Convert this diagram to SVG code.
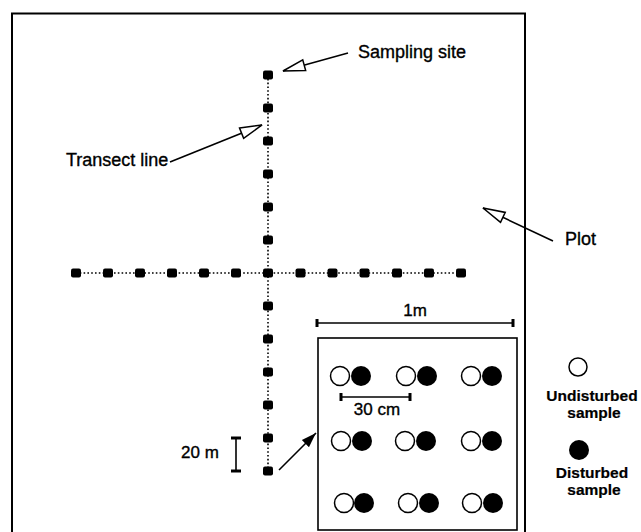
<svg xmlns="http://www.w3.org/2000/svg" width="641" height="532" viewBox="0 0 641 532">
<style>
.frame{fill:none;stroke:#000;stroke-width:2}
.box{fill:none;stroke:#000;stroke-width:1.6}
.dot{fill:none;stroke:#000;stroke-width:1.6;stroke-dasharray:1.6 2.2}
.sq{fill:#000}
.bar{stroke:#000;stroke-width:1.6;fill:none}
.tick{stroke:#000;stroke-width:3;fill:none}
.ptr{stroke:#000;stroke-width:1.6;fill:none}
.u{fill:#fff;stroke:#000;stroke-width:1.5}
.d{fill:#000}
text{font-family:"Liberation Sans",Arial,Helvetica,sans-serif;fill:#000;stroke:#000;stroke-width:0.35}
.lbl{font-size:18px}
.sm{font-size:17px}
.leg{font-size:15.5px;font-weight:bold;text-anchor:middle;stroke-width:0.2}
</style>
<defs>
<marker id="hollow" markerUnits="userSpaceOnUse" markerWidth="28" markerHeight="16" refX="24" refY="7" orient="auto">
<path d="M2,1.5 L24,7 L2,12.5 Z" fill="#fff" stroke="#000" stroke-width="1.5"/>
</marker>
<marker id="solid" markerUnits="userSpaceOnUse" markerWidth="18" markerHeight="12" refX="15" refY="6" orient="auto">
<path d="M0,1 L15,6 L0,11 Z" fill="#000"/>
</marker>
<rect id="s" class="sq" x="-5" y="-4.5" width="10" height="9" rx="2"/>
</defs>

<g id="plot">
<path class="frame" d="M12,534 V13.5 H525 V534"/>
</g>

<g id="transects">
<line class="dot" x1="268" y1="75" x2="268" y2="471"/>
<line class="dot" x1="76" y1="273" x2="461" y2="273"/>
</g>

<g id="sampling-sites">
<use href="#s" x="268" y="75"/>
<use href="#s" x="268" y="108"/>
<use href="#s" x="268" y="141"/>
<use href="#s" x="268" y="174"/>
<use href="#s" x="268" y="207"/>
<use href="#s" x="268" y="240"/>
<use href="#s" x="268" y="306"/>
<use href="#s" x="268" y="339"/>
<use href="#s" x="268" y="372"/>
<use href="#s" x="268" y="405"/>
<use href="#s" x="268" y="438"/>
<use href="#s" x="268" y="471"/>
<use href="#s" x="76" y="273"/>
<use href="#s" x="108" y="273"/>
<use href="#s" x="140" y="273"/>
<use href="#s" x="172" y="273"/>
<use href="#s" x="204" y="273"/>
<use href="#s" x="236" y="273"/>
<use href="#s" x="268" y="273"/>
<use href="#s" x="300.5" y="273"/>
<use href="#s" x="332.5" y="273"/>
<use href="#s" x="364.5" y="273"/>
<use href="#s" x="397" y="273"/>
<use href="#s" x="429" y="273"/>
<use href="#s" x="461" y="273"/>
</g>

<g id="connectors">
<line class="ptr" x1="348" y1="53" x2="283" y2="71" marker-end="url(#hollow)"/>
<line class="ptr" x1="170" y1="162" x2="262" y2="125" marker-end="url(#hollow)"/>
<line class="ptr" x1="553" y1="241" x2="483" y2="208" marker-end="url(#hollow)"/>
<line class="ptr" x1="279" y1="470" x2="316" y2="433" stroke-width="2" marker-end="url(#solid)"/>
</g>

<g id="label-sampling-site"><text class="lbl" x="358" y="58">Sampling site</text></g>
<g id="label-transect-line"><text class="lbl" x="66" y="166">Transect line</text></g>
<g id="label-plot"><text class="lbl" x="565" y="245">Plot</text></g>

<g id="scale-20m">
<line class="bar" x1="236" y1="438" x2="236" y2="471"/>
<line class="tick" x1="231" y1="438" x2="241" y2="438"/>
<line class="tick" x1="231" y1="471" x2="241" y2="471"/>
<text class="sm" x="181" y="458">20 m</text>
</g>

<g id="scale-1m">
<line class="bar" x1="317" y1="323" x2="513" y2="323"/>
<line class="tick" x1="317" y1="319" x2="317" y2="327"/>
<line class="tick" x1="513" y1="319" x2="513" y2="327"/>
<text class="sm" x="415" y="316" text-anchor="middle">1m</text>
</g>

<g id="sample-square">
<rect class="box" x="318" y="338" width="199" height="192"/>
<circle class="u" cx="340" cy="376" r="9.5"/><circle class="d" cx="361" cy="376" r="10"/>
<circle class="u" cx="406" cy="376" r="9.5"/><circle class="d" cx="427" cy="376" r="10"/>
<circle class="u" cx="471" cy="376" r="9.5"/><circle class="d" cx="492" cy="376" r="10"/>
<circle class="u" cx="341" cy="441" r="9.5"/><circle class="d" cx="362" cy="441" r="10"/>
<circle class="u" cx="405" cy="441" r="9.5"/><circle class="d" cx="426" cy="441" r="10"/>
<circle class="u" cx="471" cy="441" r="9.5"/><circle class="d" cx="492" cy="441" r="10"/>
<circle class="u" cx="344" cy="503" r="9.5"/><circle class="d" cx="364" cy="503" r="10"/>
<circle class="u" cx="408" cy="503" r="9.5"/><circle class="d" cx="429" cy="503" r="10"/>
<circle class="u" cx="472" cy="503" r="9.5"/><circle class="d" cx="493" cy="503" r="10"/>
</g>

<g id="scale-30cm">
<line class="bar" x1="341" y1="397" x2="410" y2="397"/>
<line class="tick" x1="341" y1="393" x2="341" y2="401"/>
<line class="tick" x1="410" y1="393" x2="410" y2="401"/>
<text class="sm" x="377" y="415" text-anchor="middle">30 cm</text>
</g>

<g id="legend-undisturbed">
<circle class="u" cx="578" cy="367" r="9"/>
<text class="leg" x="592" y="401">Undisturbed</text>
<text class="leg" x="594" y="418">sample</text>
</g>

<g id="legend-disturbed">
<circle class="d" cx="579" cy="450" r="10"/>
<text class="leg" x="592" y="478">Disturbed</text>
<text class="leg" x="594" y="495">sample</text>
</g>
</svg>
